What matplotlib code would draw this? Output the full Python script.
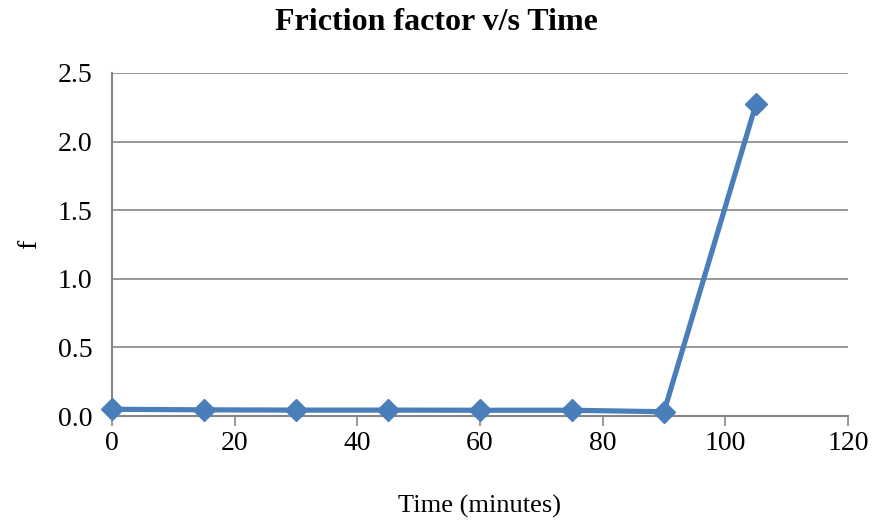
import matplotlib

matplotlib.use("Agg")
import matplotlib.pyplot as plt

time_min = [0, 15, 30, 45, 60, 75, 90, 105]
friction = [0.049, 0.045, 0.043, 0.043, 0.042, 0.042, 0.031, 2.274]
x_ticks = [0, 20, 40, 60, 80, 100, 120]
y_ticks = [0.0, 0.5, 1.0, 1.5, 2.0, 2.5]

plt.rcParams["font.family"] = ["Liberation Serif", "DejaVu Serif"]

fig = plt.figure(figsize=(8.72, 5.25), dpi=100)
ax = fig.add_axes([0.1284, 0.2076, 0.8441, 0.6534])

line_color = "#4A7EBB"
axis_color = "#868686"

ax.plot(time_min, friction, color=line_color, linewidth=3.75, marker="D",
        markersize=11, markerfacecolor=line_color, markeredgecolor=line_color,
        solid_joinstyle="round", zorder=3, clip_on=False)

ax.set_xlim(0, 120)
ax.set_ylim(0, 2.5)
ax.set_xticks(x_ticks)
ax.set_yticks(y_ticks)
ax.set_yticklabels([f"{v:.1f}" for v in y_ticks])
ax.tick_params(axis="x", direction="out", length=7, width=1.2, color=axis_color,
               labelsize=20, pad=4)
ax.tick_params(axis="y", length=0, labelsize=20, pad=14)

ax.grid(axis="y", color=axis_color, linewidth=1.2)
ax.set_axisbelow(True)
for side in ["top", "right"]:
    ax.spines[side].set_visible(False)
for side in ["left", "bottom"]:
    ax.spines[side].set_color(axis_color)
    ax.spines[side].set_linewidth(1.5)

fig.text(0.5, 1 - 22 / 525, "Friction factor v/s Time", fontsize=23,
         fontweight="bold", ha="center", va="center")
ax.set_xlabel("Time (minutes)", fontsize=19, labelpad=28)
ax.set_ylabel("f", fontsize=20, rotation=90, va="center")
ax.yaxis.set_label_coords(-(112 - 30) / 736, 0.5)

fig.savefig("out.png", dpi=100)
plt.close(fig)
